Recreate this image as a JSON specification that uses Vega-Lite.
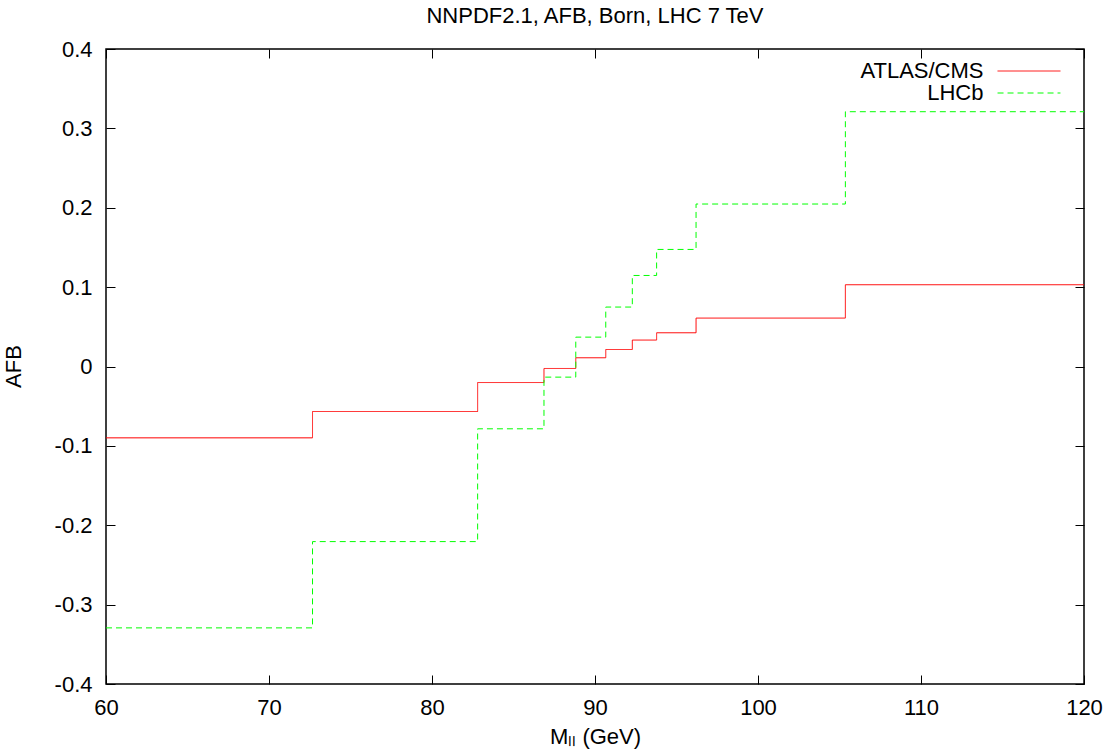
{
  "$schema": "https://vega.github.io/schema/vega-lite/v6.json",
  "width": 978,
  "height": 635,
  "autosize": {"type": "none"},
  "padding": {"left": 106, "top": 49, "right": 24, "bottom": 67},
  "background": "white",
  "title": {
    "text": "NNPDF2.1, AFB, Born, LHC 7 TeV",
    "fontSize": 22,
    "fontWeight": "normal",
    "font": "Liberation Sans",
    "color": "black",
    "offset": 10,
    "anchor": "middle"
  },
  "config": {
    "font": "Liberation Sans",
    "view": {"stroke": "black", "strokeWidth": 1.5},
    "axis": {
      "grid": false,
      "domain": false,
      "tickColor": "black",
      "tickWidth": 1,
      "tickSize": -9,
      "labelFlush": false,
      "labelFontSize": 22,
      "labelColor": "black",
      "labelFont": "Liberation Sans",
      "titleFontSize": 22,
      "titleFont": "Liberation Sans",
      "titleFontWeight": "normal",
      "titleColor": "black"
    },
    "legend": {
      "title": null,
      "orient": "none",
      "legendX": 912,
      "legendY": 11,
      "padding": 0,
      "symbolType": "M-6,0L6,0",
      "symbolSize": 110,
      "symbolStrokeWidth": 1,
      "symbolFillColor": "transparent",
      "labelAlign": "right",
      "labelOffset": -56.5,
      "labelFontSize": 22,
      "labelColor": "black",
      "labelFont": "Liberation Sans",
      "labelLimit": 400,
      "rowPadding": 0
    }
  },
  "datasets": {
    "steps": [
      {"series": "ATLAS/CMS", "m": 60, "afb": -0.0899},
      {"series": "ATLAS/CMS", "m": 72.67, "afb": -0.0567},
      {"series": "ATLAS/CMS", "m": 82.8, "afb": -0.0202},
      {"series": "ATLAS/CMS", "m": 86.87, "afb": -0.0025},
      {"series": "ATLAS/CMS", "m": 88.82, "afb": 0.011},
      {"series": "ATLAS/CMS", "m": 90.66, "afb": 0.0214},
      {"series": "ATLAS/CMS", "m": 92.29, "afb": 0.0333},
      {"series": "ATLAS/CMS", "m": 93.78, "afb": 0.0425},
      {"series": "ATLAS/CMS", "m": 96.2, "afb": 0.061},
      {"series": "ATLAS/CMS", "m": 105.36, "afb": 0.103},
      {"series": "ATLAS/CMS", "m": 120, "afb": 0.103},
      {"series": "LHCb", "m": 60, "afb": -0.3293},
      {"series": "LHCb", "m": 72.67, "afb": -0.2206},
      {"series": "LHCb", "m": 82.8, "afb": -0.0785},
      {"series": "LHCb", "m": 86.87, "afb": -0.0134},
      {"series": "LHCb", "m": 88.82, "afb": 0.037},
      {"series": "LHCb", "m": 90.66, "afb": 0.0749},
      {"series": "LHCb", "m": 92.29, "afb": 0.1147},
      {"series": "LHCb", "m": 93.78, "afb": 0.1475},
      {"series": "LHCb", "m": 96.2, "afb": 0.2047},
      {"series": "LHCb", "m": 105.36, "afb": 0.321},
      {"series": "LHCb", "m": 120, "afb": 0.321}
    ]
  },
  "data": {"name": "steps"},
  "layer": [
    {
      "mark": {"type": "line", "interpolate": "step-after", "strokeWidth": 1, "clip": true},
      "encoding": {
        "x": {
          "field": "m", "type": "quantitative",
          "scale": {"domain": [60, 120], "nice": false, "zero": false},
          "axis": {
            "orient": "bottom",
            "values": [60, 70, 80, 90, 100, 110, 120],
            "labelPadding": 22,
            "title": "Mₗₗ (GeV)",
            "titleX": 489,
            "titleY": 59,
            "titleBaseline": "alphabetic",
            "titleAlign": "center"
          }
        },
        "y": {
          "field": "afb", "type": "quantitative",
          "scale": {"domain": [-0.4, 0.4], "nice": false, "zero": false},
          "axis": {
            "orient": "left",
            "values": [-0.4, -0.3, -0.2, -0.1, 0, 0.1, 0.2, 0.3, 0.4],
            "labelExpr": "abs(datum.value) < 1e-9 ? '0' : (datum.value < 0 ? '-' : '') + format(abs(datum.value), '.1f')",
            "labelPadding": 23,
            "title": "AFB",
            "titleX": -93,
            "titleY": 317,
            "titleAngle": 270,
            "titleBaseline": "middle",
            "titleAlign": "center"
          }
        },
        "color": {
          "field": "series", "type": "nominal",
          "scale": {"domain": ["ATLAS/CMS", "LHCb"], "range": ["#ff0000", "#00ff00"]}
        },
        "strokeDash": {
          "field": "series", "type": "nominal",
          "scale": {"domain": ["ATLAS/CMS", "LHCb"], "range": [[1, 0], [6, 4]]}
        }
      }
    },
    {
      "mark": {"type": "line", "opacity": 0},
      "encoding": {
        "x": {
          "field": "m", "type": "quantitative",
          "axis": {"orient": "top", "values": [60, 70, 80, 90, 100, 110, 120], "labels": false, "title": null}
        },
        "y": {
          "field": "afb", "type": "quantitative",
          "axis": {"orient": "right", "values": [-0.4, -0.3, -0.2, -0.1, 0, 0.1, 0.2, 0.3, 0.4], "labels": false, "title": null}
        },
        "detail": {"field": "series"}
      }
    }
  ],
  "resolve": {"axis": {"x": "independent", "y": "independent"}}
}
